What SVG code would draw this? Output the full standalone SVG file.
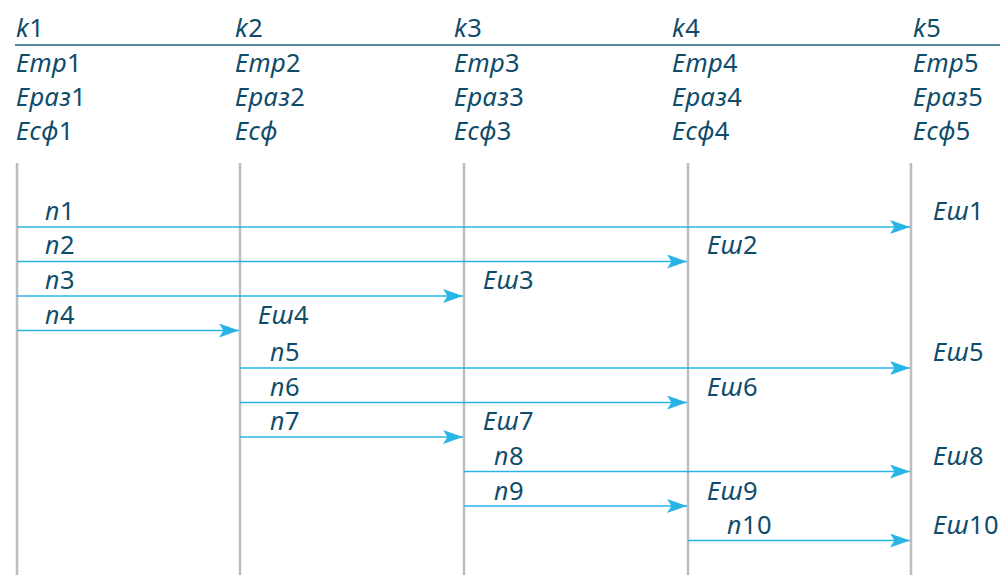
<svg xmlns="http://www.w3.org/2000/svg" width="1000" height="575" viewBox="0 0 1000 575">
  <defs>
    <style>
      text { font-family: "Noto Sans", "Open Sans", sans-serif; font-size: 25.5px; letter-spacing: 0.5px; fill: #0f4c6a; }
      .i { font-style: italic; }
      .lane { stroke: #bdbdbd; stroke-width: 2.5; }
      .rule { stroke: #1f5d78; stroke-width: 1.5; }
      .flow { stroke: #29b4e6; stroke-width: 1.6; fill: none; marker-end: url(#ah); }
    </style>
    <marker id="ah" viewBox="0 0 20 14" refX="20" refY="7" markerWidth="20" markerHeight="14" markerUnits="userSpaceOnUse" orient="auto">
      <path d="M0,0 L20,7 L0,14 L4.5,7 Z" fill="#29b4e6"/>
    </marker>
  </defs>
  <rect width="1000" height="575" fill="#ffffff"/>

  <!-- header rule -->
  <line class="rule" x1="15" y1="45" x2="1000" y2="45"/>

  <!-- columns -->
  <g id="col-k1">
    <text x="16" y="37"><tspan class="i">k</tspan>1</text>
    <text x="16" y="72"><tspan class="i">Етр</tspan>1</text>
    <text x="16" y="106"><tspan class="i">Ераз</tspan>1</text>
    <text x="16" y="140"><tspan class="i">Есф</tspan>1</text>
    <line class="lane" x1="17" y1="163" x2="17" y2="575"/>
  </g>
  <g id="col-k2">
    <text x="235" y="37"><tspan class="i">k</tspan>2</text>
    <text x="235" y="72"><tspan class="i">Етр</tspan>2</text>
    <text x="235" y="106"><tspan class="i">Ераз</tspan>2</text>
    <text x="235" y="140"><tspan class="i">Есф</tspan></text>
    <line class="lane" x1="240" y1="163" x2="240" y2="575"/>
  </g>
  <g id="col-k3">
    <text x="454" y="37"><tspan class="i">k</tspan>3</text>
    <text x="454" y="72"><tspan class="i">Етр</tspan>3</text>
    <text x="454" y="106"><tspan class="i">Ераз</tspan>3</text>
    <text x="454" y="140"><tspan class="i">Есф</tspan>3</text>
    <line class="lane" x1="464" y1="163" x2="464" y2="575"/>
  </g>
  <g id="col-k4">
    <text x="672" y="37"><tspan class="i">k</tspan>4</text>
    <text x="672" y="72"><tspan class="i">Етр</tspan>4</text>
    <text x="672" y="106"><tspan class="i">Ераз</tspan>4</text>
    <text x="672" y="140"><tspan class="i">Есф</tspan>4</text>
    <line class="lane" x1="688" y1="163" x2="688" y2="575"/>
  </g>
  <g id="col-k5">
    <text x="913" y="37"><tspan class="i">k</tspan>5</text>
    <text x="913" y="72"><tspan class="i">Етр</tspan>5</text>
    <text x="913" y="106"><tspan class="i">Ераз</tspan>5</text>
    <text x="913" y="140"><tspan class="i">Есф</tspan>5</text>
    <line class="lane" x1="911" y1="163" x2="911" y2="575"/>
  </g>

  <!-- connectors -->
  <g id="connectors">
    <line class="flow" x1="17" y1="227" x2="910" y2="227"/>
    <line class="flow" x1="17" y1="261.5" x2="687" y2="261.5"/>
    <line class="flow" x1="17" y1="296" x2="463" y2="296"/>
    <line class="flow" x1="17" y1="330.5" x2="239" y2="330.5"/>
    <line class="flow" x1="240" y1="368" x2="910" y2="368"/>
    <line class="flow" x1="240" y1="402.5" x2="687" y2="402.5"/>
    <line class="flow" x1="240" y1="437" x2="463" y2="437"/>
    <line class="flow" x1="464" y1="471.5" x2="910" y2="471.5"/>
    <line class="flow" x1="464" y1="506" x2="687" y2="506"/>
    <line class="flow" x1="688" y1="540.5" x2="910" y2="540.5"/>
  </g>

  <!-- connector labels -->
  <g id="labels">
    <text x="45" y="220"><tspan class="i">п</tspan>1</text>
    <text x="45" y="254"><tspan class="i">п</tspan>2</text>
    <text x="45" y="289"><tspan class="i">п</tspan>3</text>
    <text x="45" y="324"><tspan class="i">п</tspan>4</text>
    <text x="270" y="361"><tspan class="i">п</tspan>5</text>
    <text x="270" y="396"><tspan class="i">п</tspan>6</text>
    <text x="270" y="430"><tspan class="i">п</tspan>7</text>
    <text x="494" y="465"><tspan class="i">п</tspan>8</text>
    <text x="494" y="500"><tspan class="i">п</tspan>9</text>
    <text x="727" y="534"><tspan class="i">п</tspan>10</text>

    <text x="933" y="220"><tspan class="i">Еш</tspan>1</text>
    <text x="707" y="254"><tspan class="i">Еш</tspan>2</text>
    <text x="483" y="289"><tspan class="i">Еш</tspan>3</text>
    <text x="258" y="324"><tspan class="i">Еш</tspan>4</text>
    <text x="933" y="361"><tspan class="i">Еш</tspan>5</text>
    <text x="707" y="396"><tspan class="i">Еш</tspan>6</text>
    <text x="483" y="430"><tspan class="i">Еш</tspan>7</text>
    <text x="933" y="465"><tspan class="i">Еш</tspan>8</text>
    <text x="707" y="500"><tspan class="i">Еш</tspan>9</text>
    <text x="933" y="534"><tspan class="i">Еш</tspan>10</text>
  </g>
</svg>
